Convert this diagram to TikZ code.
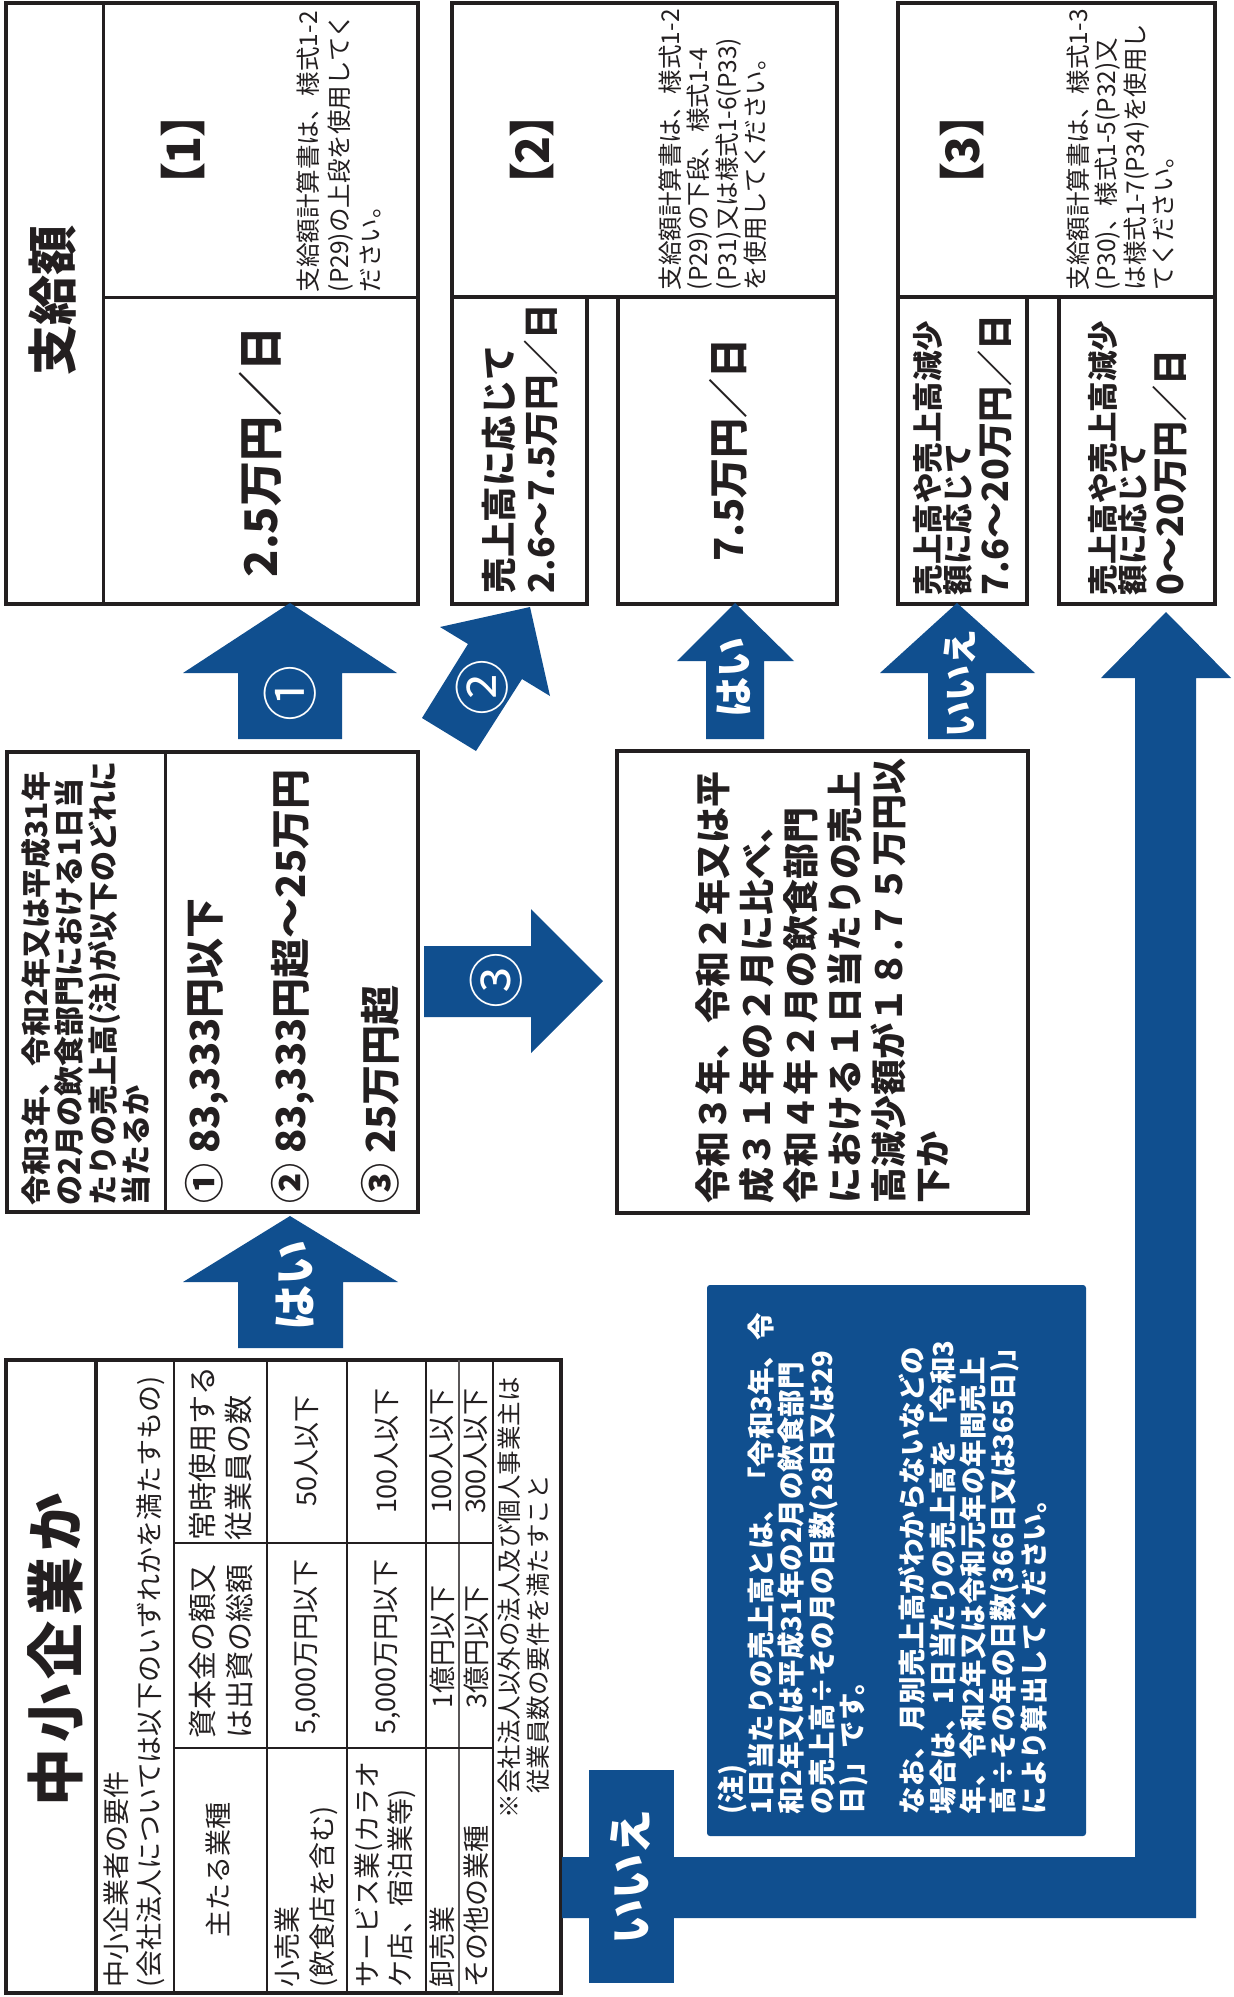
\documentclass[tikz,border=0pt]{standalone}
\usepackage{fontspec}
\setmainfont{Noto Sans CJK JP}
\newfontfamily\jpp[RawFeature=+palt]{Noto Sans CJK JP}
\definecolor{flowblue}{RGB}{16,79,143}
\definecolor{ink}{RGB}{35,31,32}
\newcommand{\fs}[2]{\fontsize{#1}{#2}\selectfont}
\begin{document}
\begin{tikzpicture}[x=1pt,y=-1pt,
  outerline/.style={draw=ink,line width=4pt},
  innerline/.style={draw=ink,line width=3pt},
  thinline/.style={draw=ink!75,line width=1.8pt},
  vt/.style={rotate=90,inner sep=0pt,outer sep=0pt,text=ink},
  blk/.style={vt,align=left,anchor=north west},
  wt/.style={rotate=90,inner sep=0pt,text=white,font=\bfseries},
  blockarrow/.style={fill=flowblue}
]
\useasboundingbox (0,0) rectangle (1234,1997);
\fill[white] (0,0) rectangle (1234,1997);

% ---------------- top row boxes ----------------
\draw[outerline] (6,3) rectangle (418,604);
\draw[innerline] (103,3) -- (103,604);
\draw[innerline] (103,297) -- (418,297);

\draw[outerline] (452,3) rectangle (837,297);
\draw[outerline] (452,297) rectangle (587,604);
\draw[outerline] (618,297) rectangle (837,604);

\draw[outerline] (898,3) rectangle (1215,297);
\draw[outerline] (898,297) rectangle (1027,604);
\draw[outerline] (1059,297) rectangle (1215,604);

\node[vt,font=\fs{50}{50}\bfseries] (t1) at (53,300) {支給額};
\node[vt,font=\jpp\fs{46}{46}\bfseries] (k1) at (183,150) {【1】};
\node[blk,font=\fs{24.5}{31}] (n1) at (296.75,292) {支給額計算書は、様式1-2\\(P29)の上段を使用してく\\ださい。};
\node[vt,font=\fs{45}{45}\bfseries] (a1) at (260,452) {2.5万円／日};

\node[vt,font=\jpp\fs{46}{46}\bfseries] (k2) at (532,150) {【2】};
\node[blk,font=\fs{24.5}{28.5}] (n2) at (658.75,290) {支給額計算書は、様式1-2\\(P29)の下段、様式1-4\\(P31)又は様式1-6(P33)\\を使用してください。};
\node[blk,font=\fs{35.5}{42}\bfseries] (a2a) at (482,593) {売上高に応じて\\2.6～7.5万円／日};
\node[vt,font=\fs{40}{40}\bfseries] (a2b) at (728,450) {7.5万円／日};

\node[vt,font=\jpp\fs{46}{46}\bfseries] (k3) at (962,150) {【3】};
\node[blk,font=\fs{24.5}{28.5}] (n3) at (1066.75,290) {支給額計算書は、様式1-3\\(P30)、様式1-5(P32)又\\は様式1-7(P34)を使用し\\てください。};
\node[blk,font=\fs{30.5}{30.5}\bfseries] (a3a) at (913.3,595) {売上高や売上高減少\\額に応じて};
\node[vt,anchor=west,font=\fs{36}{36}\bfseries] (a3a2) at (995,595) {7.6～20万円／日};
\node[blk,font=\fs{30.5}{30.5}\bfseries] (a3b) at (1088.3,595) {売上高や売上高減少\\額に応じて};
\node[vt,anchor=west,font=\fs{36}{36}\bfseries] (a3b2) at (1170,595) {0～20万円／日};

% ---------------- arrows of the top row ----------------
\fill[blockarrow] (290,603) -- (397,673) -- (342,673) -- (342,739) -- (238,739) -- (238,673) -- (183,673) -- cycle;
\node[wt,font=\fs{56}{56}] (w1) at (290,693) {①};

\fill[blockarrow] (530,607) -- (550,696) -- (522,679) -- (476,751) -- (422,718) -- (468,644) -- (440,627) -- cycle;
\node[wt,font=\fs{56}{56}] (w2) at (482,687) {②};

\fill[blockarrow] (735,603) -- (794,661) -- (764,661) -- (764,739) -- (706,739) -- (706,661) -- (677,661) -- cycle;
\node[wt,font=\fs{40}{40}\bfseries] (y1) at (734,677) {はい};

\fill[blockarrow] (957,603) -- (1035,673) -- (986,673) -- (986,739) -- (928,739) -- (928,673) -- (880,673) -- cycle;
\node[wt,font=\fs{36}{36}\bfseries] (nu) at (960,683) {いいえ};

% ---------------- middle row ----------------
\draw[outerline] (7,752) rectangle (418,1212);
\draw[innerline] (165,752) -- (165,1212);
\node[blk,font=\fs{30}{33.3}\bfseries] (q1) at (21.5,1205) {令和3年、令和2年又は平成31年\\の2月の飲食部門における1日当\\たりの売上高(注)が以下のどれに\\当たるか};
\node[vt,anchor=west,font=\fs{40}{40}\bfseries] (o1) at (207,1203) {① 83,333円以下};
\node[vt,anchor=west,font=\fs{40}{40}\bfseries] (o2) at (293,1203) {② 83,333円超～25万円};
\node[vt,anchor=west,font=\fs{40}{40}\bfseries] (o3) at (380,1203) {③ 25万円超};

\fill[blockarrow] (424,946) -- (531,946) -- (531,909) -- (603,981) -- (531,1053) -- (531,1017) -- (424,1017) -- cycle;
\node[wt,font=\fs{56}{56}] (w3) at (496,980) {③};

\draw[outerline] (617,751) rectangle (1028,1213);
\node[blk,font=\fs{36}{44}\bfseries] (q2) at (695.8,1203) {令和３年、令和２年又は平\\成３１年の２月に比べ、\\令和４年２月の飲食部門\\における１日当たりの売上\\高減少額が１８.７５万円以\\下か};

% ---------------- bottom: yes arrow ----------------
\fill[blockarrow] (290,1216) -- (398,1282) -- (343,1282) -- (343,1348) -- (238,1348) -- (238,1282) -- (183,1282) -- cycle;
\node[wt,font=\fs{45}{45}\bfseries] (y2) at (295,1285) {はい};

% ---------------- table ----------------
\draw[outerline] (6,1360) rectangle (561,1993);
\draw[outerline] (96,1360) -- (96,1993);
\foreach \cx in {174,267,347,426,493} {\draw[ink,line width=2.8pt] (\cx,1360) -- (\cx,1993);}
\draw[thinline] (459,1360) -- (459,1993);
\draw[ink,line width=2.8pt] (174,1543) -- (493,1543);
\draw[ink,line width=2.8pt] (174,1748) -- (493,1748);

\node[vt,font=\fs{58}{58}\bfseries\addfontfeature{LetterSpace=10}] (tt) at (55,1650) {中小企業か};
\node[blk,font=\fs{27}{33}] (hdr) at (103.8,1987) {中小企業者の要件\\(会社法人については以下のいずれかを満たすもの)};
\node[vt,font=\fs{27}{27}] (cmain) at (218,1870) {主たる業種};
\node[blk,font=\fs{29}{37}] (ccap) at (189,1738) {資本金の額又\\は出資の総額};
\node[blk,font=\fs{29}{36}] (cemp) at (189,1540) {常時使用する\\従業員の数};

\node[blk,font=\fs{27}{35}] (r1) at (274.8,1987) {小売業\\(飲食店を含む)};
\node[vt,font=\fs{27}{27}] (r1c) at (307,1647) {5,000万円以下};
\node[vt,font=\fs{27}{27}] (r1e) at (307,1451) {50人以下};

\node[blk,font=\fs{27}{33}] (r2) at (354.8,1987) {サービス業(カラオ\\ケ店、宿泊業等)};
\node[vt,font=\fs{27}{27}] (r2c) at (387,1647) {5,000万円以下};
\node[vt,font=\fs{27}{27}] (r2e) at (387,1451) {100人以下};

\node[vt,anchor=west,font=\fs{27}{27}] (r3) at (442,1987) {卸売業};
\node[vt,font=\fs{27}{27}] (r3c) at (442,1647) {1億円以下};
\node[vt,font=\fs{27}{27}] (r3e) at (442,1451) {100人以下};

\node[vt,anchor=west,font=\fs{27}{27}] (r4) at (476,1987) {その他の業種};
\node[vt,font=\fs{27}{27}] (r4c) at (476,1647) {3億円以下};
\node[vt,font=\fs{27}{27}] (r4e) at (476,1451) {300人以下};

\node[blk,font=\fs{24.5}{29}] (nt) at (498,1818) {※会社法人以外の法人及び個人事業主は\\\phantom{※}従業員数の要件を満たすこと};

% ---------------- note box ----------------
\fill[flowblue,rounded corners=3pt] (707,1285) rectangle (1086,1836);
\node[blk,text=white,font=\fs{27.5}{30.3}\bfseries] (nb) at (717.6,1814) {(注)\\1日当たりの売上高とは、「令和3年、令\\和2年又は平成31年の2月の飲食部門\\の売上高÷その月の日数(28日又は29\\日)」です。\\[30.3pt]なお、月別売上高がわからないなどの\\場合は、1日当たりの売上高を「令和3\\年、令和2年又は令和元年の年間売上\\高÷その年の日数(366日又は365日)」\\により算出してください。};

% ---------------- big "no" arrow ----------------
\fill[blockarrow] (562,1857) -- (1135,1857) -- (1135,678) -- (1101,678) -- (1166,612) -- (1231,678) -- (1196,678) -- (1196,1918) -- (562,1918) -- cycle;
\fill[blockarrow] (589,1770) rectangle (674,1983);
\node[wt,font=\fs{45}{45}\bfseries] (nlab) at (631,1877) {いいえ};
\end{tikzpicture}
\end{document}
